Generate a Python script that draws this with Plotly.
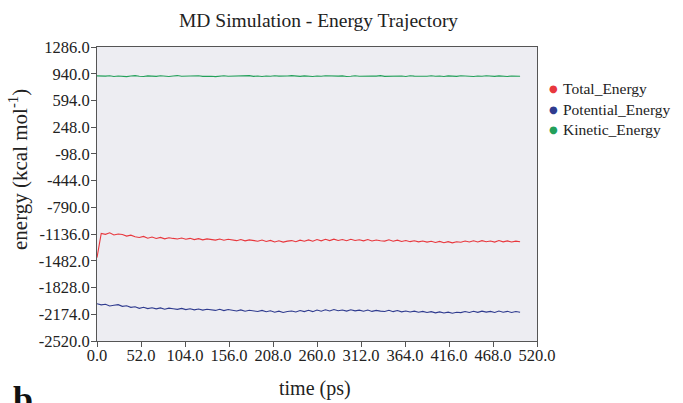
import plotly.graph_objects as go

time_ps = list(range(0, 505, 5))

total_energy = [
    -1440, -1128, -1139, -1120, -1147, -1135, -1141, -1162, -1150, -1171,
    -1180, -1166, -1189, -1174, -1193, -1179, -1198, -1183, -1192, -1199,
    -1186, -1203, -1191, -1207, -1195, -1210, -1198, -1203, -1214, -1199,
    -1216, -1202, -1211, -1221, -1206, -1224, -1211, -1219, -1228, -1213,
    -1232, -1218, -1238, -1223, -1240, -1227, -1220, -1235, -1215, -1229,
    -1211, -1229, -1207, -1223, -1204, -1220, -1201, -1218, -1206, -1222,
    -1203, -1219, -1209, -1224, -1207, -1226, -1212, -1222, -1227, -1210,
    -1229, -1214, -1232, -1219, -1234, -1222, -1237, -1225, -1240, -1228,
    -1244, -1231, -1247, -1234, -1249, -1235, -1241, -1226, -1239, -1223,
    -1238, -1221, -1235, -1225, -1240, -1220, -1236, -1224, -1239, -1227,
    -1235,
]

potential_energy = [
    -2038, -2052, -2045, -2066, -2058, -2050, -2071, -2064, -2084, -2076,
    -2097, -2083, -2101, -2089, -2104, -2091, -2109, -2095, -2103, -2110,
    -2098, -2114, -2103, -2117, -2106, -2120, -2109, -2113, -2124, -2110,
    -2126, -2113, -2121, -2131, -2117, -2134, -2122, -2129, -2138, -2124,
    -2141, -2129, -2147, -2134, -2150, -2138, -2131, -2145, -2126, -2139,
    -2123, -2140, -2119, -2134, -2116, -2131, -2113, -2129, -2118, -2133,
    -2115, -2130, -2121, -2135, -2119, -2137, -2124, -2133, -2138, -2122,
    -2140, -2126, -2143, -2131, -2145, -2134, -2148, -2137, -2151, -2140,
    -2155, -2143, -2158, -2146, -2160, -2147, -2152, -2138, -2150, -2135,
    -2149, -2133, -2146, -2137, -2151, -2132, -2147, -2136, -2150, -2139,
    -2148,
]

kinetic_energy = [
    912, 906, 909, 914, 905, 911, 908, 903, 910, 915,
    907, 904, 912, 909, 906, 913, 908, 905, 911, 916,
    907, 910, 904, 909, 913, 906, 911, 908, 903, 910,
    914, 907, 909, 905, 912, 908, 915, 906, 910, 904,
    911, 907, 913, 909, 905, 910, 916, 908, 906, 912,
    909, 904, 911, 907, 914, 910, 906, 909, 912, 905,
    908, 913, 907, 910, 904, 911, 909, 915, 906, 908,
    912, 907, 910, 905, 913, 909, 906, 911, 908, 914,
    907, 910, 905, 912, 909, 906, 913, 908, 911, 904,
    910, 907, 914, 909, 906, 912, 908, 905, 911, 909,
    907,
]

series_names = ["Total_Energy", "Potential_Energy", "Kinetic_Energy"]
series_colors = ["#e8373d", "#2f3b8f", "#23a05a"]
series_values = [total_energy, potential_energy, kinetic_energy]

y_ticks = [-2520, -2174, -1828, -1482, -1136, -790, -444, -98, 248, 594, 940, 1286]
x_ticks = [0, 52, 104, 156, 208, 260, 312, 364, 416, 468, 520]

FONT = "Liberation Serif, Times New Roman, serif"
TXT = "#222"

# plot area in pixels: left 97, right 537, top 47, bottom 341
L, R, T, B = 97, 146, 47, 62
W, H = 683, 403
PW, PH = W - L - R, H - T - B


def px_x(px):
    return (px - L) / PW


def px_y(py):
    return (H - B - py) / PH


fig = go.Figure()
for name, color, vals in zip(series_names, series_colors, series_values):
    fig.add_trace(go.Scatter(x=time_ps, y=vals, mode="lines",
                             line=dict(color=color, width=1.1),
                             showlegend=False, name=name))

fig.update_layout(
    width=W, height=H,
    margin=dict(l=L, r=R, t=T, b=B),
    paper_bgcolor="white",
    plot_bgcolor="#ededf2",
    font=dict(family=FONT, size=16, color=TXT),
    showlegend=False,
)

fig.update_xaxes(
    range=[0, 520], tickvals=x_ticks, ticktext=[f"{v:.1f}" for v in x_ticks],
    showgrid=False, zeroline=False, showline=True, linecolor="#555",
    linewidth=1, mirror=True, ticks="outside", ticklen=5, tickcolor="#555",
    tickfont=dict(family=FONT, size=16.5, color=TXT), automargin=False,
    ticklabelstandoff=-6,
)
fig.update_yaxes(
    range=[-2520, 1286], tickvals=y_ticks, ticktext=[f"{v:.1f}" for v in y_ticks],
    showgrid=False, zeroline=False, showline=True, linecolor="#555",
    linewidth=1, mirror=True, ticks="outside", ticklen=5, tickcolor="#555",
    tickfont=dict(family=FONT, size=16.5, color=TXT), automargin=False,
    ticklabelstandoff=-2,
)

# title
fig.add_annotation(text="MD Simulation - Energy Trajectory", xref="paper", yref="paper",
                   x=px_x(318), y=px_y(20), xanchor="center", yanchor="middle",
                   showarrow=False, font=dict(family=FONT, size=19.5, color=TXT))
# axis titles
fig.add_annotation(text="time (ps)", xref="paper", yref="paper",
                   x=px_x(315), y=px_y(388), xanchor="center", yanchor="middle",
                   showarrow=False, font=dict(family=FONT, size=20, color=TXT))
fig.add_annotation(text="energy (kcal mol<sup>-1</sup>)", xref="paper", yref="paper",
                   x=px_x(18), y=px_y(170), xanchor="center", yanchor="middle",
                   textangle=-90, showarrow=False,
                   font=dict(family=FONT, size=21, color=TXT))

# legend
legend_rows = [88, 109, 129]
for name, color, ry in zip(series_names, series_colors, legend_rows):
    fig.add_annotation(text="●", xref="paper", yref="paper",
                       x=px_x(553), y=px_y(ry), xanchor="center", yanchor="middle",
                       showarrow=False, font=dict(family="DejaVu Sans", size=10, color=color))
    fig.add_annotation(text=name, xref="paper", yref="paper",
                       x=px_x(561), y=px_y(ry), xanchor="left", yanchor="middle",
                       showarrow=False, font=dict(family=FONT, size=15.5, color=TXT))

# panel letter (cut at the bottom edge as in the source)
fig.add_annotation(text="<b>b</b>", xref="paper", yref="paper",
                   x=px_x(11), y=px_y(377), xanchor="left", yanchor="top",
                   showarrow=False, font=dict(family=FONT, size=36, color="#111"))

fig.write_html("out.html", config={"displayModeBar": False},
               post_script="document.body.style.margin='0';document.body.style.overflow='hidden';")
